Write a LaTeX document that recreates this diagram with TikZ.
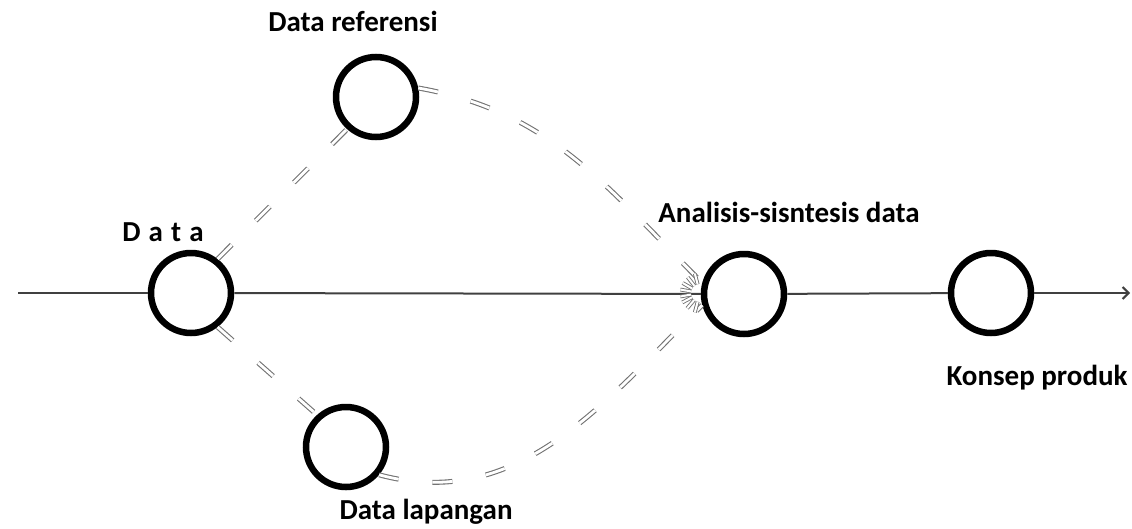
\documentclass[tikz,border=0pt]{standalone}
\usepackage{fontspec}
\setmainfont{Carlito}
\usetikzlibrary{arrows.meta,calc}
\begin{document}
\begin{tikzpicture}[x=1pt,y=-1pt,
  stage/.style={circle,draw=black,line width=6.5pt,minimum size=80pt,inner sep=0pt,fill=white},
  lbl/.style={font=\bfseries\fontsize{29}{32}\selectfont,inner sep=0pt},
  mainline/.style={draw=black!75,line width=2pt},
  dline/.style={draw=black!55,double=white,line width=1.1pt,double distance=2.8pt,dash pattern=on 20pt off 34pt},
  spoke/.style={draw=black!55,double=white,line width=0.9pt,double distance=2pt}]
\useasboundingbox (0,0) rectangle (1132,528);
\coordinate (start) at (18,293);
\coordinate (end) at (1130,293);
\node[stage] (data) at (191,293) {};
\node[stage] (ref) at (376,97) {};
\node[stage] (lap) at (346,447) {};
\node[stage] (ana) at (744,294) {};
\node[stage] (kon) at (991,293) {};
\draw[mainline] (start) -- (data);
\draw[mainline] (data) -- (ana);
\draw[mainline] (ana) -- (kon);
\draw[mainline,-{Straight Barb[length=6pt,width=12pt]}] (kon) -- (end);
\draw[dline] (data.52) -- (ref.228);
\draw[dline] (ref.12) to[out=-10,in=135] (ana.165);
\draw[dline] (data.-52) -- (lap.132);
\draw[dline] (lap.-40) to[out=-15,in=-135] (ana.195);
% starburst where the paths meet
\coordinate (hub) at (700,293);
\foreach \a in {105,130,152,170,190,210,232,255}
  \draw[spoke] ($(hub)+(\a:9)$) -- ($(hub)+(\a:20)$);
\node[lbl] (tdata) at (163,232) {D\hspace{0.28em}a\hspace{0.28em}t\hspace{0.28em}a};
\node[lbl] (tref) at (353,21) {Data referensi};
\node[lbl] (tlap) at (426,512) {Data lapangan};
\node[lbl] (tana) at (789,212) {Analisis-sisntesis data};
\node[lbl] (tkon) at (1037,378) {Konsep produk};
\end{tikzpicture}
\end{document}
